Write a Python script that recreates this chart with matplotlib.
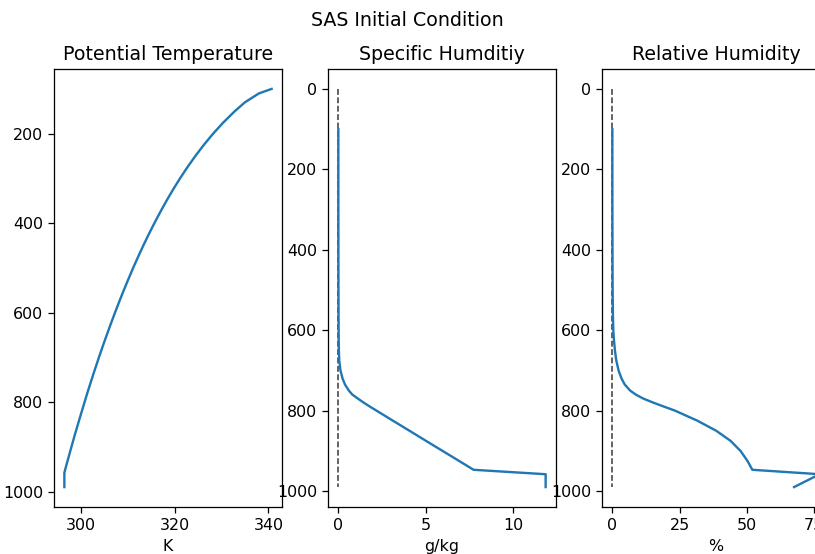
import numpy as np
import matplotlib
matplotlib.use("Agg")
import matplotlib.pyplot as plt

# pressure levels (hPa), surface to top
pres = np.array([990, 958, 947, 925, 900, 875, 850, 825, 800, 790, 780, 770,
                 760, 750, 735, 720, 700, 675, 650, 625, 600, 575, 550, 525,
                 500, 475, 450, 425, 400, 375, 350, 325, 300, 275, 250, 225,
                 200, 175, 150, 130, 110, 100])

# potential temperature (K)
theta = np.array([296.5, 296.5, 296.77, 297.35, 298.01, 298.68, 299.38, 300.09,
                  300.81, 301.10, 301.39, 301.69, 302.00, 302.30, 302.76, 303.24,
                  303.87, 304.69, 305.54, 306.41, 307.30, 308.22, 309.17, 310.16,
                  311.17, 312.24, 313.34, 314.49, 315.70, 316.96, 318.28, 319.68,
                  321.16, 322.74, 324.43, 326.25, 328.22, 330.40, 332.82, 335.0,
                  338.0, 340.7])

# specific humidity (g/kg)
qv = np.array([11.88, 11.88, 7.75, 6.92, 5.97, 5.02, 4.08, 3.13,
               2.19, 1.81, 1.45, 1.12, 0.80, 0.60, 0.38, 0.24,
               0.12, 0.05, 0.03, 0.02, 0.015, 0.012, 0.01, 0.008,
               0.006, 0.005, 0.004, 0.003, 0.002, 0.002, 0.001, 0.001,
               0.0, 0.0, 0.0, 0.0, 0.0, 0.0, 0.0, 0.0, 0.0, 0.0])

# relative humidity (%)
rh = np.array([67.5, 77.0, 52.0, 50.2, 47.6, 43.9, 38.6, 31.6,
               23.3, 19.2, 15.2, 11.5, 8.7, 6.6, 4.6, 3.4,
               2.3, 1.45, 0.95, 0.6, 0.35, 0.25, 0.18, 0.14,
               0.1, 0.08, 0.07, 0.06, 0.05, 0.04, 0.03, 0.02,
               0.02, 0.01, 0.01, 0.0, 0.0, 0.0, 0.0, 0.0, 0.0, 0.0])

dpi = 114
fig = plt.figure(figsize=(815 / dpi, 554 / dpi), dpi=dpi)
fig.suptitle('SAS Initial Condition')

W, H = 815.0, 554.0
width = 228 / W
height = 438 / H
bottom = 1 - 507 / H
lefts = [54 / W, 328 / W, 602 / W]

ax1 = fig.add_axes([lefts[0], bottom, width, height])
ax1.plot(theta, pres)
ax1.invert_yaxis()
ax1.set_title('Potential Temperature')
ax1.set_xlabel('K')

ax2 = fig.add_axes([lefts[1], bottom, width, height])
ax2.vlines(0, 0, pres.max(), colors='0.25', linestyles='--', linewidth=1)
ax2.plot(qv, pres)
ax2.invert_yaxis()
ax2.set_title('Specific Humditiy')
ax2.set_xlabel('g/kg')

ax3 = fig.add_axes([lefts[2], bottom, width, height])
ax3.vlines(0, 0, pres.max(), colors='0.25', linestyles='--', linewidth=1)
ax3.plot(rh, pres)
ax3.invert_yaxis()
ax3.set_title('Relative Humidity')
ax3.set_xlabel('%')

fig.savefig('out.png', dpi=dpi)
